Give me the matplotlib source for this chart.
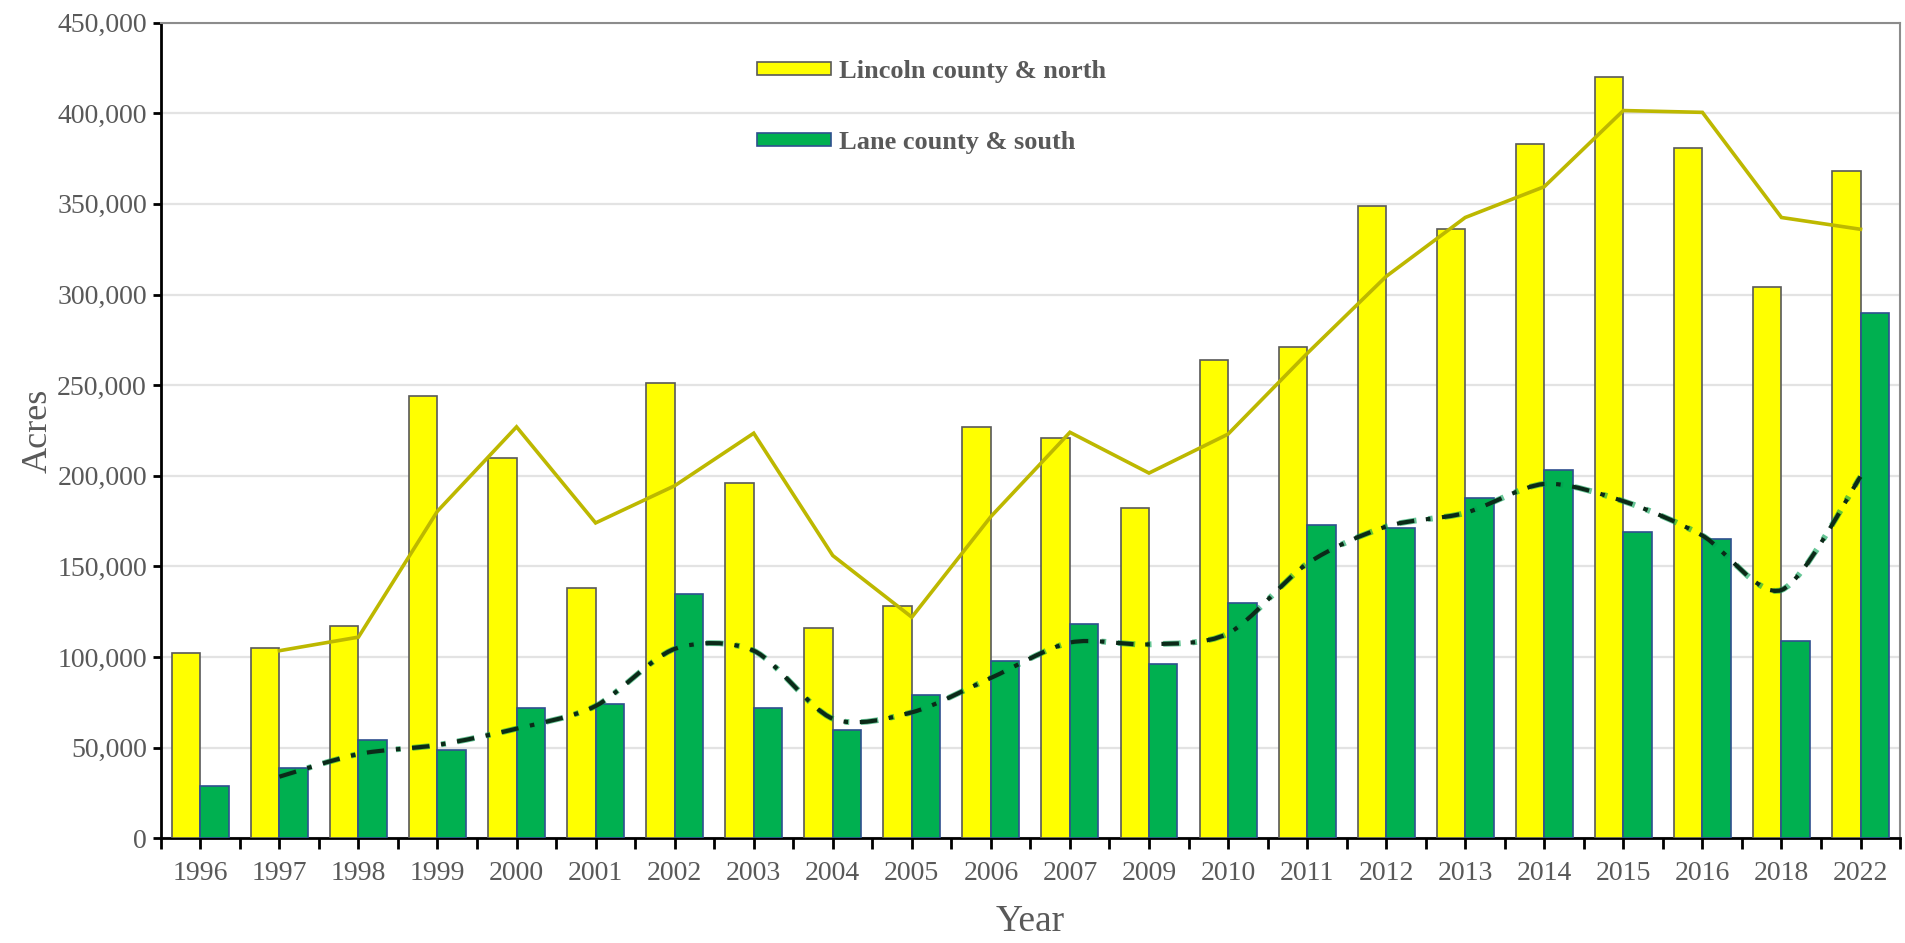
import matplotlib
matplotlib.use("Agg")
import matplotlib.pyplot as plt
import numpy as np
import pandas as pd
from matplotlib.path import Path
from matplotlib.patches import PathPatch, Patch
from matplotlib.ticker import FuncFormatter, MultipleLocator

years = ["1996", "1997", "1998", "1999", "2000", "2001", "2002", "2003", "2004", "2005", "2006",
         "2007", "2009", "2010", "2011", "2012", "2013", "2014", "2015", "2016", "2018", "2022"]
lincoln = [102000, 105000, 117000, 244000, 210000, 138000, 251000, 196000, 116000, 128000, 227000,
           221000, 182000, 264000, 271000, 349000, 336000, 383000, 420000, 381000, 304000, 368000]
lane = [29000, 39000, 54000, 49000, 72000, 74000, 135000, 72000, 60000, 79000, 98000,
        118000, 96000, 130000, 173000, 171000, 188000, 203000, 169000, 165000, 109000, 290000]
series_names = ["Lincoln county & north", "Lane county & south"]

plt.rcParams['font.family'] = ['Liberation Serif', 'DejaVu Serif']

fig = plt.figure(figsize=(19.05, 9.43), dpi=100)
ax = fig.add_axes([0.0844, 0.111, 0.9130, 0.865])

x = np.arange(len(years))
w = 0.36
ax.bar(x - w / 2, lincoln, width=w, color="#FFFF00", edgecolor="#595959", linewidth=1.2, zorder=3)
ax.bar(x + w / 2, lane, width=w, color="#00B050", edgecolor="#2F4F8F", linewidth=1.2, zorder=3)

# 2-period moving average trendlines
ma_lin = pd.Series(lincoln, dtype=float).rolling(2).mean().to_numpy()
ma_lane = pd.Series(lane, dtype=float).rolling(2).mean().to_numpy()

ax.plot(x[1:], ma_lin[1:], color="#BDB800", lw=2.6, zorder=4, solid_joinstyle="miter")

# smoothed (Bezier) line for the Lane series
px = x[1:].astype(float)
py = ma_lane[1:]
pts = np.column_stack([px, py])
verts = [tuple(pts[0])]
codes = [Path.MOVETO]
n = len(pts)
k = 1.0 / 7.0
for i in range(n - 1):
    p0 = pts[i - 1] if i > 0 else pts[i]
    p1 = pts[i]
    p2 = pts[i + 1]
    p3 = pts[i + 2] if i + 2 < n else pts[i + 1]
    c1 = p1 + (p2 - p0) * k
    c2 = p2 - (p3 - p1) * k
    verts += [tuple(c1), tuple(c2), tuple(p2)]
    codes += [Path.CURVE4] * 3
path = Path(verts, codes)
ax.add_patch(PathPatch(path, fill=False, edgecolor="#00A050", lw=4.2, linestyle=(0, (3, 2, 0.8, 2)), zorder=5, alpha=0.6))
ax.add_patch(PathPatch(path, fill=False, edgecolor="#0B2A18", lw=3.0, linestyle=(0, (4.2, 2.8, 1.1, 2.8)), zorder=6))

ax.set_xlim(-0.5, len(years) - 0.5)
ax.set_ylim(0, 450000)
ax.yaxis.set_major_locator(MultipleLocator(50000))
ax.yaxis.set_major_formatter(FuncFormatter(lambda v, p: f"{int(v):,}"))
ax.grid(axis="y", color="#E3E3E3", lw=1.6, zorder=0)
ax.set_axisbelow(True)

ax.set_xticks(x)
ax.set_xticklabels(years)
ax.set_xticks(np.arange(-0.5, len(years), 1.0), minor=True)
ax.tick_params(axis="x", which="both", direction="out", length=8, width=2, color="black",
               labelsize=20, labelcolor="#595959", pad=8)
ax.tick_params(axis="y", which="major", direction="out", length=6, width=2, color="black",
               labelsize=20, labelcolor="#595959", pad=4)

for s in ["left", "bottom"]:
    ax.spines[s].set_color("black")
    ax.spines[s].set_linewidth(2)
for s in ["top", "right"]:
    ax.spines[s].set_color("#8C8C8C")
    ax.spines[s].set_linewidth(1.5)

ax.set_xlabel("Year", fontsize=27, color="#595959", labelpad=14)
ax.set_ylabel("Acres", fontsize=26, color="#595959", labelpad=2)

handles = [Patch(facecolor="#FFFF00", edgecolor="#595959", lw=1.2),
           Patch(facecolor="#00B050", edgecolor="#2F4F8F", lw=1.2)]
leg = ax.legend(handles, series_names, loc="upper left", bbox_to_anchor=(0.329, 0.983),
                frameon=False, handlelength=2.8, handleheight=0.4, handletextpad=0.3,
                labelspacing=1.8, prop={"family": "Liberation Serif", "weight": "bold", "size": 19})
for t in leg.get_texts():
    t.set_color("#595959")

fig.savefig("out.png", dpi=100)
